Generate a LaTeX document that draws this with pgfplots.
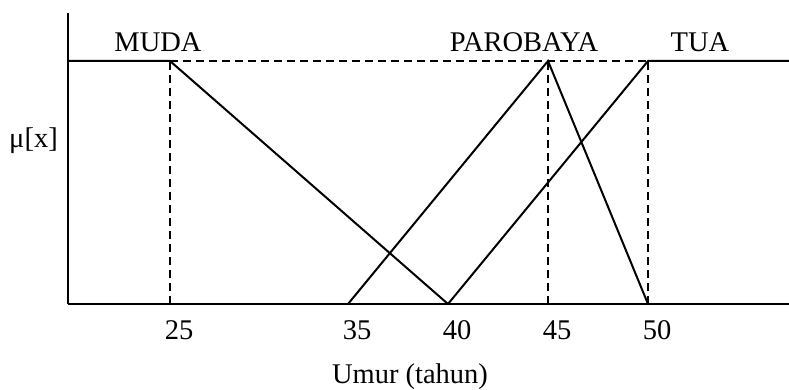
\documentclass[border=0pt]{standalone}
\usepackage{pgfplots}
\pgfplotsset{compat=1.18}
\usepackage{fontspec}
\setmainfont{Liberation Serif}
\newcommand{\bigfs}{\fontsize{28.5}{34}\selectfont}
\begin{document}
\begin{tikzpicture}
\begin{axis}[
  at={(0,0)}, anchor=south west,
  scale only axis, width=721pt, height=291pt,
  x coord trafo/.code={\pgfmathparse{#1<25 ? 26.1-(25-#1)*1.02 : (#1<35 ? 35-(35-#1)*0.89 : #1)}},
  xmin=20, xmax=57.05, ymin=0, ymax=1.1975,
  axis x line=bottom, axis y line=left,
  axis line style={-, line width=1.8pt},
  every outer x axis line/.append style={-},
  every outer y axis line/.append style={-},
  xtick={25,35,40,45,50},
  xticklabels={25,35,40,45,50},
  ytick=\empty,
  major tick length=0pt,
  /pgf/number format/assume math mode=true,
  xticklabel style={font=\bigfs, anchor=base, yshift=-35pt, xshift=9pt, inner sep=0pt},
  clip=false,
]
\addplot[black, line width=2pt] coordinates {(20,1) (25,1) (40,0)};
\addplot[black, line width=2pt] coordinates {(35,0) (45,1) (50,0)};
\addplot[black, line width=2pt] coordinates {(40,0) (50,1) (57.05,1)};
\addplot[black, line width=1.8pt, dash pattern=on 8pt off 5pt] coordinates {(25,1) (50,1)};
\addplot[black, line width=1.8pt, dash pattern=on 8pt off 5pt] coordinates {(25,0) (25,1)};
\addplot[black, line width=1.8pt, dash pattern=on 8pt off 5pt] coordinates {(45,0) (45,1)};
\addplot[black, line width=1.8pt, dash pattern=on 8pt off 5pt] coordinates {(50,0) (50,1)};
\end{axis}
\node[font=\bigfs, anchor=base] at (90pt,252pt) {MUDA};
\node[font=\bigfs, anchor=base] at (456pt,252pt) {PAROBAYA};
\node[font=\bigfs, anchor=base] at (632pt,252pt) {TUA};
\node[font=\bigfs, anchor=base] at (-34.5pt,157pt) {μ[x]};
\node[font=\bigfs, anchor=base] at (342pt,-79pt) {Umur (tahun)};
\pgfresetboundingbox
\path[use as bounding box] (-68pt,-85pt) rectangle (721pt,304pt);
\end{tikzpicture}
\end{document}
